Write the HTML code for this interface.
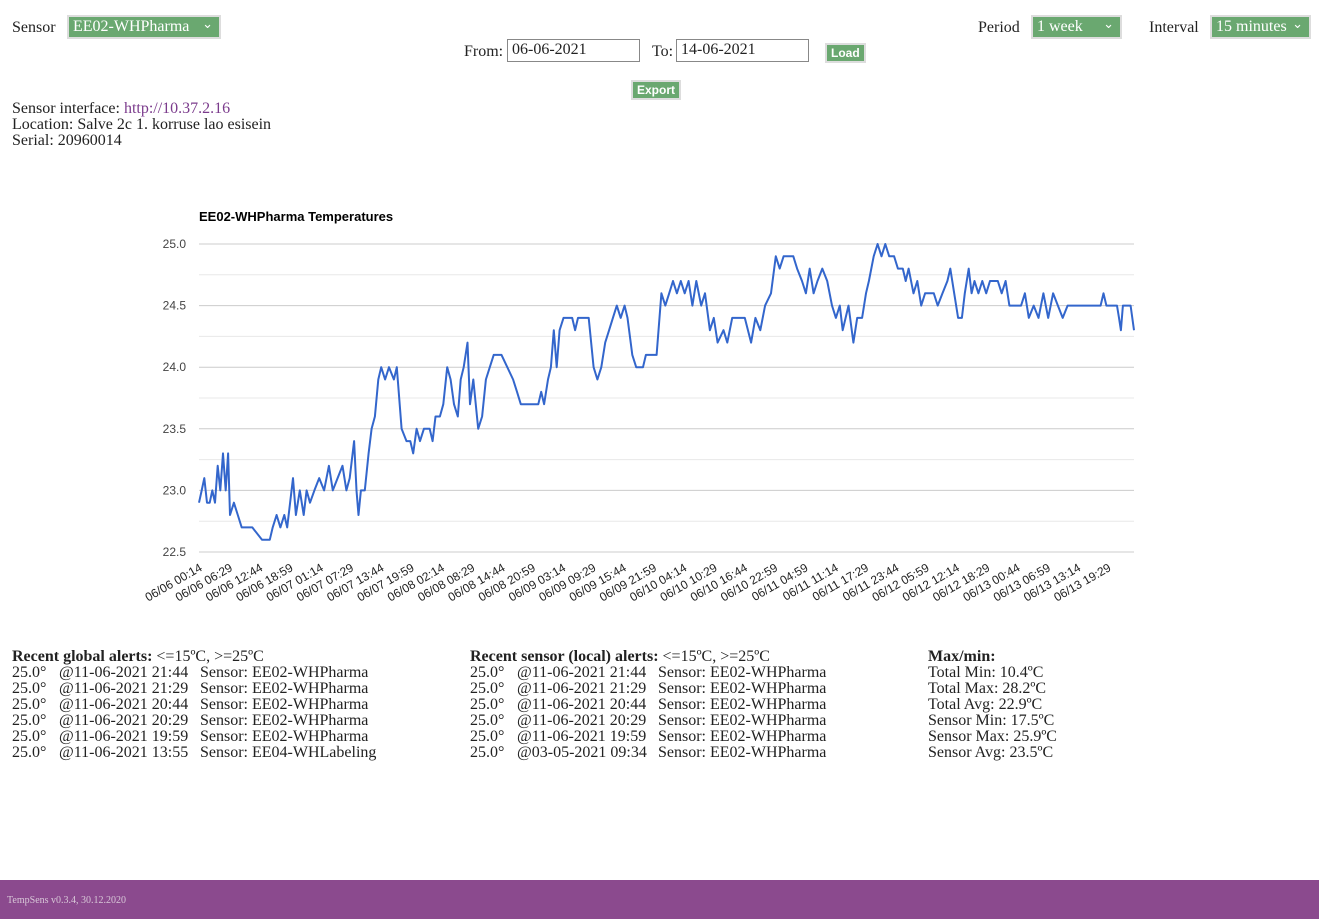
<!DOCTYPE html>
<html><head><meta charset="utf-8">
<style>
body{margin:0;width:1319px;height:919px;position:relative;background:#fff;font-family:"Liberation Serif",serif;font-size:16px;color:#222;overflow:hidden}
.a{position:absolute;white-space:nowrap}
.sel{position:absolute;background:#6aa870;color:#fff;border:2px solid #ddd;box-sizing:border-box;height:24px;font-size:16px;padding:0 4px;line-height:19px}
.sel:after{content:"⌄";position:absolute;right:6px;top:-3px;font-size:13px}
.inp{position:absolute;border:1px solid #888;height:23px;box-sizing:border-box;font-size:16px;padding:0 4px;line-height:20px;background:#fff}
.btn{position:absolute;background:#6aa870;color:#fff;border:2px solid #ddd;font:bold 12px "Liberation Sans",sans-serif;height:20px;box-sizing:border-box;padding:1px 4px;line-height:15px}
.blk{position:absolute;line-height:16px;font-size:16px}
.r span{display:inline-block}
.r .c1{width:47px}.r .c2{width:141px}
</style></head><body>
<div class="a" style="left:12px;top:19px">Sensor</div>
<div class="sel" style="left:67px;top:15px;width:154px">EE02-WHPharma</div>
<div class="a" style="left:978px;top:19px">Period</div>
<div class="sel" style="left:1031px;top:15px;width:91px">1 week</div>
<div class="a" style="left:1149px;top:19px">Interval</div>
<div class="sel" style="left:1210px;top:15px;width:101px">15 minutes</div>
<div class="a" style="left:464px;top:43px">From:</div>
<div class="inp" style="left:507px;top:39px;width:133px">06-06-2021</div>
<div class="a" style="left:652px;top:43px">To:</div>
<div class="inp" style="left:676px;top:39px;width:133px">14-06-2021</div>
<div class="btn" style="left:825px;top:43px">Load</div>
<div class="btn" style="left:631px;top:80px">Export</div>
<div class="blk" style="left:12px;top:101px">Sensor interface: <span style="color:#7b3b8c">http://10.37.2.16</span><br>Location: Salve 2c 1. korruse lao esisein<br>Serial: 20960014</div>

<svg class="a" style="left:0;top:190px" width="1319" height="440">
<g id="g" transform="translate(0,-190)"></g>
</svg>

<div class="blk r" style="left:12px;top:649px"><b>Recent global alerts:</b> &lt;=15ºC, &gt;=25ºC<br>
<span class="c1">25.0°</span><span class="c2">@11-06-2021 21:44</span>Sensor: EE02-WHPharma<br>
<span class="c1">25.0°</span><span class="c2">@11-06-2021 21:29</span>Sensor: EE02-WHPharma<br>
<span class="c1">25.0°</span><span class="c2">@11-06-2021 20:44</span>Sensor: EE02-WHPharma<br>
<span class="c1">25.0°</span><span class="c2">@11-06-2021 20:29</span>Sensor: EE02-WHPharma<br>
<span class="c1">25.0°</span><span class="c2">@11-06-2021 19:59</span>Sensor: EE02-WHPharma<br>
<span class="c1">25.0°</span><span class="c2">@11-06-2021 13:55</span>Sensor: EE04-WHLabeling</div>
<div class="blk r" style="left:470px;top:649px"><b>Recent sensor (local) alerts:</b> &lt;=15ºC, &gt;=25ºC<br>
<span class="c1">25.0°</span><span class="c2">@11-06-2021 21:44</span>Sensor: EE02-WHPharma<br>
<span class="c1">25.0°</span><span class="c2">@11-06-2021 21:29</span>Sensor: EE02-WHPharma<br>
<span class="c1">25.0°</span><span class="c2">@11-06-2021 20:44</span>Sensor: EE02-WHPharma<br>
<span class="c1">25.0°</span><span class="c2">@11-06-2021 20:29</span>Sensor: EE02-WHPharma<br>
<span class="c1">25.0°</span><span class="c2">@11-06-2021 19:59</span>Sensor: EE02-WHPharma<br>
<span class="c1">25.0°</span><span class="c2">@03-05-2021 09:34</span>Sensor: EE02-WHPharma</div>
<div class="blk" style="left:928px;top:649px"><b>Max/min:</b><br>Total Min: 10.4ºC<br>Total Max: 28.2ºC<br>Total Avg: 22.9ºC<br>Sensor Min: 17.5ºC<br>Sensor Max: 25.9ºC<br>Sensor Avg: 23.5ºC</div>
<div class="a" style="left:0;top:880px;width:1319px;height:39px;background:#8b4a8e"><span style="position:absolute;left:7px;top:15px;font-size:10px;color:#d8c8d8">TempSens v0.3.4, 30.12.2020</span></div>

<script>
const hours=[0,0.55,1.1,1.65,2.2,2.75,3.3,3.85,4.4,4.95,5.5,6.0,6.4,7.2,8.0,8.8,9.5,11,13.0,14.6,15.2,16.0,16.8,17.6,18.2,18.8,19.4,20.0,20.8,21.6,22.2,22.9,23.8,24.8,25.8,26.8,27.6,28.6,29.6,30.4,31.1,32.0,32.5,32.9,33.4,34.2,35.0,35.6,36.3,37.0,37.6,38.4,39.2,40.2,40.8,41.8,42.8,43.6,44.2,44.9,45.6,46.4,47.6,48.2,48.8,49.7,50.4,51.2,51.9,52.6,53.4,54.0,54.6,55.4,55.9,56.6,57.6,58.4,59.2,60.0,60.8,62.4,63.6,64.8,65.6,66.4,70.0,70.6,71.2,72.0,72.6,73.2,73.8,74.4,75.2,77.0,77.6,78.2,80.4,81.4,82.2,83.0,83.8,84.6,85.4,86.2,87.0,87.8,88.4,89.4,90.2,91.6,92.2,94.4,95.4,96.2,97.0,97.8,98.6,99.4,100.2,101.0,101.8,102.6,103.6,104.4,105.4,106.2,107.0,108.2,109.0,110.0,112.6,113.9,114.8,115.8,116.8,118.0,119.0,119.8,120.6,122.6,123.4,124.4,125.2,126.0,126.8,127.6,128.6,129.6,130.6,131.4,132.2,132.8,133.4,134.0,135.0,135.8,136.8,137.6,138.2,139.2,140.0,140.8,141.6,142.4,143.4,144.2,145.2,145.8,146.4,147.4,148.2,149.0,149.8,151.6,152.4,153.4,154.4,155.0,155.8,156.6,157.4,158.0,158.8,159.4,160.0,160.8,161.6,162.4,163.2,164.8,165.6,166.4,167.2,168.6,169.6,170.4,171.2,172.2,173.2,174.2,175.2,176.2,177.2,178.2,179.2,181.6,184,186,186.6,187.2,189.4,189.8,190.2,190.6,192.2,192.9];
const temps=[22.9,23.0,23.1,22.9,22.9,23.0,22.9,23.2,23.0,23.3,23.0,23.3,22.8,22.9,22.8,22.7,22.7,22.7,22.6,22.6,22.7,22.8,22.7,22.8,22.7,22.9,23.1,22.8,23.0,22.8,23.0,22.9,23.0,23.1,23.0,23.2,23.0,23.1,23.2,23.0,23.1,23.4,23.0,22.8,23.0,23.0,23.3,23.5,23.6,23.9,24.0,23.9,24.0,23.9,24.0,23.5,23.4,23.4,23.3,23.5,23.4,23.5,23.5,23.4,23.6,23.6,23.7,24.0,23.9,23.7,23.6,23.9,24.0,24.2,23.7,23.9,23.5,23.6,23.9,24.0,24.1,24.1,24.0,23.9,23.8,23.7,23.7,23.8,23.7,23.9,24.0,24.3,24.0,24.3,24.4,24.4,24.3,24.4,24.4,24.0,23.9,24.0,24.2,24.3,24.4,24.5,24.4,24.5,24.4,24.1,24.0,24.0,24.1,24.1,24.6,24.5,24.6,24.7,24.6,24.7,24.6,24.7,24.5,24.7,24.5,24.6,24.3,24.4,24.2,24.3,24.2,24.4,24.4,24.2,24.4,24.3,24.5,24.6,24.9,24.8,24.9,24.9,24.8,24.7,24.6,24.8,24.6,24.7,24.8,24.7,24.5,24.4,24.5,24.3,24.4,24.5,24.2,24.4,24.4,24.6,24.7,24.9,25.0,24.9,25.0,24.9,24.9,24.8,24.8,24.7,24.8,24.6,24.7,24.5,24.6,24.6,24.5,24.6,24.7,24.8,24.6,24.4,24.4,24.6,24.8,24.6,24.7,24.6,24.7,24.6,24.7,24.7,24.6,24.7,24.5,24.5,24.5,24.6,24.4,24.5,24.4,24.6,24.4,24.6,24.5,24.4,24.5,24.5,24.5,24.5,24.6,24.5,24.5,24.4,24.3,24.5,24.5,24.3];
const yTicks=[22.5,23.0,23.5,24.0,24.5,25.0];
const xLabels=["06/06 00:14","06/06 06:29","06/06 12:44","06/06 18:59","06/07 01:14","06/07 07:29","06/07 13:44","06/07 19:59","06/08 02:14","06/08 08:29","06/08 14:44","06/08 20:59","06/09 03:14","06/09 09:29","06/09 15:44","06/09 21:59","06/10 04:14","06/10 10:29","06/10 16:44","06/10 22:59","06/11 04:59","06/11 11:14","06/11 17:29","06/11 23:44","06/12 05:59","06/12 12:14","06/12 18:29","06/13 00:44","06/13 06:59","06/13 13:14","06/13 19:29"];
const NS="http://www.w3.org/2000/svg",g=document.getElementById('g');
const X0=199,X1=1134,Y0=552,Y1=244,vmin=22.5,vmax=25.0,hmax=192.9;
const y=v=>Y0-(v-vmin)/(vmax-vmin)*(Y0-Y1);
const x=h=>X0+h/hmax*(X1-X0);
function mk(t,a){const e=document.createElementNS(NS,t);for(const k in a)e.setAttribute(k,a[k]);g.appendChild(e);return e;}
for(let v=vmin;v<=vmax+0.001;v+=0.25){
 const l=mk('line',{x1:X0,x2:X1,y1:y(v),y2:y(v),stroke:Math.abs(v*2-Math.round(v*2))<0.01?'#ccc':'#e8e8e8','stroke-width':1});
 
 
}
yTicks.forEach(v=>{const t=mk('text',{x:186,y:y(v)+4,'text-anchor':'end','font-family':'Liberation Sans, sans-serif','font-size':12,fill:'#444'});t.textContent=v.toFixed(1);
 
 });
xLabels.forEach((s,i)=>{const px=x(i*6.25)+4;const t=mk('text',{x:px,y:570,'text-anchor':'end','font-family':'Liberation Sans, sans-serif','font-size':12,fill:'#222',transform:`rotate(-30 ${px} 570)`});t.textContent=s;
 
 });
const p=mk('polyline',{points:temps.map((v,i)=>x(hours[i]).toFixed(1)+','+y(v).toFixed(1)).join(' '),fill:'none',stroke:'#3366cc','stroke-width':2,'stroke-linejoin':'round'});


const ti=mk('text',{x:199,y:221,'font-family':'Liberation Sans, sans-serif','font-size':13,'font-weight':'bold',fill:'#000'});ti.textContent='EE02-WHPharma Temperatures';


</script>
</body></html>
